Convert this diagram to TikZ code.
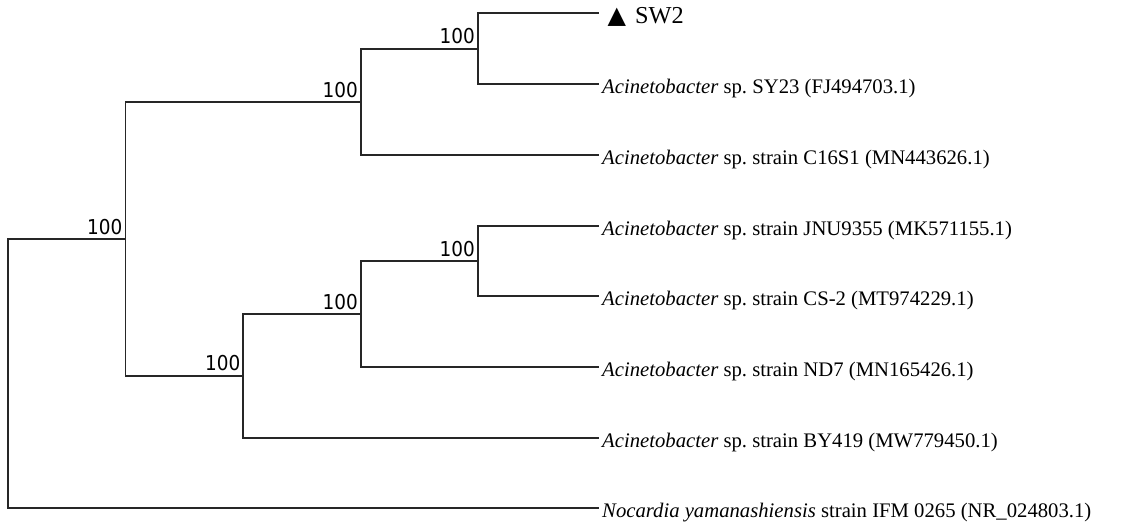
\documentclass[tikz,border=0pt]{standalone}
\usepackage{fontspec}
\setmainfont{Liberation Serif}
\newfontfamily\bsfont[FakeStretch=0.9]{DejaVu Sans}
\newfontfamily\symfont{DejaVu Sans}
\frenchspacing
\begin{document}
\begin{tikzpicture}[x=1pt,y=-1pt,
  branch/.style={draw=black!85, line width=1.7pt, line cap=rect},
  leaf/.style={anchor=base west, inner sep=0pt, font=\fontsize{20.7}{24}\selectfont},
  boot/.style={anchor=base east, inner sep=0pt, font=\bsfont\fontsize{20.5}{24}\selectfont}]
\useasboundingbox (0,0) rectangle (1133,523);
% internal nodes
\coordinate (root) at (8,373.5);
\coordinate (nA) at (125.5,239);
\coordinate (nT) at (361,102);
\coordinate (nS) at (478,49);
\coordinate (nB) at (243,376);
\coordinate (nC) at (361,314);
\coordinate (nJ) at (478,261);
% leaf ends
\coordinate (lSW) at (598,13);
\coordinate (lSY) at (598,84);
\coordinate (lC16) at (598,155);
\coordinate (lJNU) at (598,226);
\coordinate (lCS) at (598,296);
\coordinate (lND) at (598,367);
\coordinate (lBY) at (598,438);
\coordinate (lNO) at (598,508);
% branches
\draw[branch] (root) |- (nA);
\draw[branch] (root) |- (lNO);
\draw[branch] (nA) |- (nT);
\draw[branch] (nA) |- (nB);
\draw[branch] (nT) |- (nS);
\draw[branch] (nT) |- (lC16);
\draw[branch] (nS) |- (lSW);
\draw[branch] (nS) |- (lSY);
\draw[branch] (nB) |- (nC);
\draw[branch] (nB) |- (lBY);
\draw[branch] (nC) |- (nJ);
\draw[branch] (nC) |- (lND);
\draw[branch] (nJ) |- (lJNU);
\draw[branch] (nJ) |- (lCS);
% bootstrap values
\node[boot] (bA) at (122.5,234.5) {100};
\node[boot] (bT) at (358,97) {100};
\node[boot] (bS) at (475,43.5) {100};
\node[boot] (bB) at (240.5,370.5) {100};
\node[boot] (bC) at (358,309) {100};
\node[boot] (bJ) at (475,256.5) {100};
% leaf labels
\node[anchor=base west, inner sep=0pt] (tSW) at (607.5,23.3) {{\symfont\fontsize{24}{28}\selectfont ▲}\hspace{9pt}{\fontsize{24.3}{28}\selectfont SW2}};
\node[leaf] (tSY) at (602,93.5) {\textit{Acinetobacter} sp. SY23 (FJ494703.1)};
\node[leaf] (tC16) at (602,164.5) {\textit{Acinetobacter} sp. strain C16S1 (MN443626.1)};
\node[leaf] (tJNU) at (602,235.5) {\textit{Acinetobacter} sp. strain JNU9355 (MK571155.1)};
\node[leaf] (tCS) at (602,305.5) {\textit{Acinetobacter} sp. strain CS-2 (MT974229.1)};
\node[leaf] (tND) at (602,376.5) {\textit{Acinetobacter} sp. strain ND7 (MN165426.1)};
\node[leaf] (tBY) at (602,447.5) {\textit{Acinetobacter} sp. strain BY419 (MW779450.1)};
\node[leaf] (tNO) at (602,517) {\textit{Nocardia yamanashiensis} strain IFM 0265 (NR\_024803.1)};
\end{tikzpicture}
\end{document}
